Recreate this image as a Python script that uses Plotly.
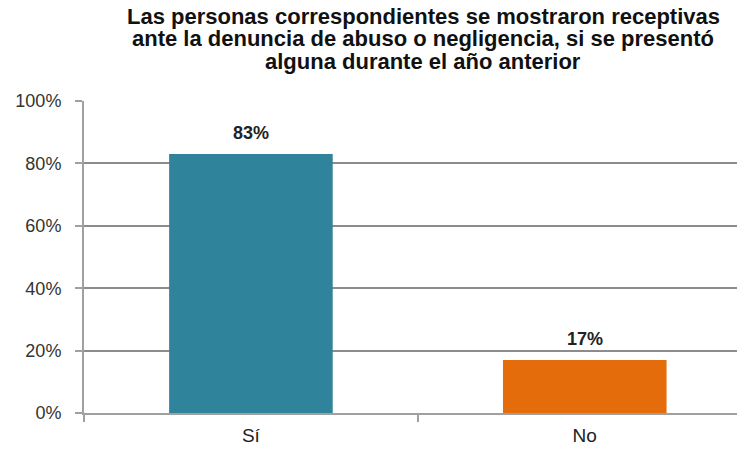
import plotly.graph_objects as go

categories = ["Sí", "No"]
values = [83, 17]
labels = ["83%", "17%"]
colors = ["#2F839A", "#E46C0A"]
y_ticks = [0, 20, 40, 60, 80, 100]
y_tick_text = ["0%", "20%", "40%", "60%", "80%", "100%"]
title_lines = [
    "Las personas correspondientes se mostraron receptivas",
    "ante la denuncia de abuso o negligencia, si se presentó",
    "alguna durante el año anterior",
]

fig = go.Figure(go.Bar(
    x=categories, y=values, width=0.49,
    marker=dict(color=colors, line=dict(width=0)),
    hoverinfo="skip",
))

# value labels above bars
for c, v, t in zip(categories, values, labels):
    fig.add_annotation(
        x=c, y=v, text=f"<b>{t}</b>", showarrow=False,
        yanchor="bottom", yshift=9,
        font=dict(family="Liberation Sans, Arial", size=18, color="#222222"),
    )

# title, one annotation per line for tight spacing
for line, yy in zip(title_lines, [1.272, 1.200, 1.128]):
    fig.add_annotation(
        xref="paper", yref="paper", x=0.513, y=yy, text=f"<b>{line}</b>",
        showarrow=False, xanchor="center", yanchor="middle",
        font=dict(family="Liberation Sans, Arial", size=22, color="#111111"),
    )

fig.update_layout(
    width=737, height=443,
    margin=dict(l=76, r=0, t=93, b=38),
    paper_bgcolor="white", plot_bgcolor="white",
    showlegend=False,
    font=dict(family="Liberation Sans, Arial", color="#333333"),
)
fig.update_yaxes(
    range=[0, 100], tickvals=y_ticks, ticktext=y_tick_text,
    showgrid=True, gridcolor="#8c8c8c", gridwidth=1.5,
    showline=True, linecolor="#a0a0a0", linewidth=2,
    ticks="outside", ticklen=7, tickcolor="#a0a0a0", tickwidth=2,
    ticklabelstandoff=10,
    tickfont=dict(size=18, color="#333333"), zeroline=False,
)
fig.update_xaxes(
    range=[-0.5, 1.48], showline=True, linecolor="#a0a0a0", linewidth=2,
    ticks="outside", tickson="boundaries", ticklen=7, tickcolor="#a0a0a0", tickwidth=2,
    ticklabelstandoff=4,
    tickfont=dict(family="Liberation Sans, Arial", size=19, color="#222222"),
)

fig.write_html("out.html")
